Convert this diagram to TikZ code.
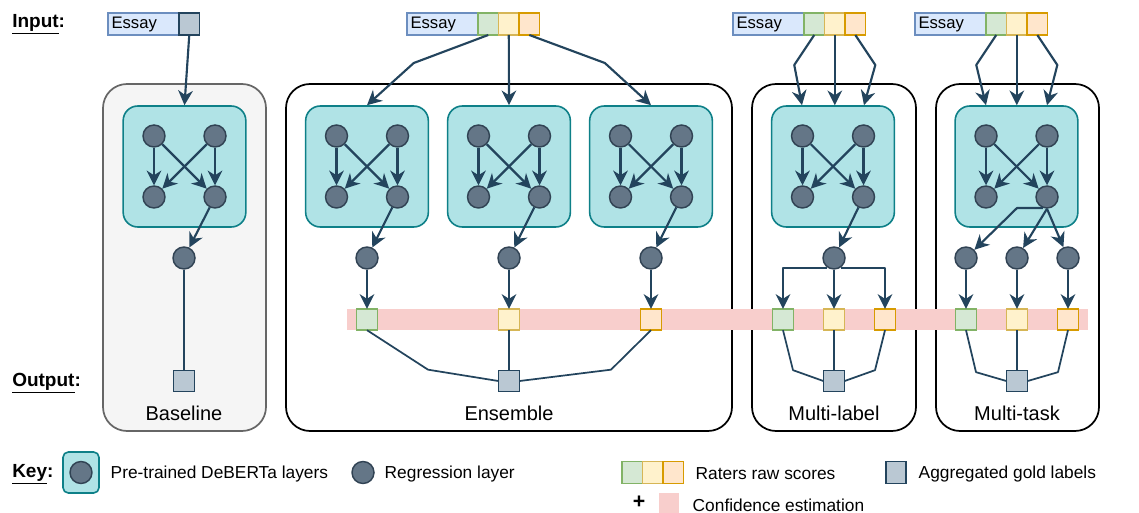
\documentclass[tikz,border=0pt]{standalone}
\usepackage{fontspec}
\setmainfont{Liberation Sans}
\usetikzlibrary{arrows.meta,calc}
\definecolor{tealF}{HTML}{B0E3E6}
\definecolor{tealB}{HTML}{0E8088}
\definecolor{neuF}{HTML}{647687}
\definecolor{neuB}{HTML}{314354}
\definecolor{arrC}{HTML}{23445D}
\definecolor{essayF}{HTML}{DAE8FC}
\definecolor{essayB}{HTML}{6C8EBF}
\definecolor{gF}{HTML}{D5E8D4}
\definecolor{gB}{HTML}{82B366}
\definecolor{yF}{HTML}{FFF2CC}
\definecolor{yB}{HTML}{D6B656}
\definecolor{oF}{HTML}{FFE6CC}
\definecolor{oB}{HTML}{D79B00}
\definecolor{goldF}{HTML}{BAC8D3}
\definecolor{goldB}{HTML}{23445D}
\definecolor{baseF}{HTML}{F5F5F5}
\definecolor{baseB}{HTML}{666666}
\definecolor{pinkF}{HTML}{F8CECC}
\newcommand\debblock[3]{%
  \node[tealbox] (#1) at (#2,#3) {};
  \node[neuron] (#1a) at (#2-30.5,#3-30.5) {};
  \node[neuron] (#1b) at (#2+30.5,#3-30.5) {};
  \node[neuron] (#1c) at (#2-30.5,#3+30.5) {};
  \node[neuron] (#1d) at (#2+30.5,#3+30.5) {};
  \draw[arr] (#1a) -- (#1c);
  \draw[arr] (#1b) -- (#1d);
  \draw[arr] (#1a) -- (#1d);
  \draw[arr] (#1b) -- (#1c);
}
\begin{document}
\begin{tikzpicture}[x=0.75pt,y=-0.75pt,
  tealbox/.style={draw=tealB, fill=tealF, line width=1.2pt, rounded corners=11pt, minimum width=92pt, minimum height=90.75pt, inner sep=0pt},
  neuron/.style={circle, draw=neuB, fill=neuF, line width=1.1pt, minimum size=16.5pt, inner sep=0pt},
  arr/.style={draw=arrC, line width=1.6pt, -{Stealth[length=11pt,width=11pt,inset=3.5pt]}, line join=round},
  ln/.style={draw=arrC, line width=1.3pt, line join=round},
  outerbox/.style={draw=black, line width=1.3pt, rounded corners=18pt},
  cell/.style={rectangle, line width=1.2pt, minimum width=15.4pt, minimum height=16.5pt, inner sep=0pt, outer sep=0pt},
  essay/.style={cell, draw=essayB, fill=essayF, minimum width=53.25pt, text width=48pt, inner xsep=2.5pt, align=left, font=\fontsize{12.5}{14}\selectfont, anchor=west},
  gcell/.style={cell, draw=gB, fill=gF},
  ycell/.style={cell, draw=yB, fill=yF},
  ocell/.style={cell, draw=oB, fill=oF},
  goldcell/.style={cell, draw=goldB, fill=goldF},
  rsq/.style={minimum width=16pt, minimum height=16pt},
  lab/.style={font=\fontsize{15}{18}\selectfont},
  keytxt/.style={font=\fontsize{13}{16}\selectfont, anchor=west},
  side/.style={font=\bfseries\fontsize{14.25}{17}\selectfont, anchor=west, inner sep=0pt},
]
\useasboundingbox (0,0) rectangle (1139,513);

% side labels
\node[side] (inL) at (12,24) {\underline{Input}:};
\node[side] (outL) at (12,383) {\underline{Output}:};
\node[side] (keyL) at (12,474) {\underline{Key}:};

% outer boxes
\draw[draw=baseB, fill=baseF, line width=1.3pt, rounded corners=18pt] (103,84) rectangle (266,431);
\draw[outerbox] (286,84) rectangle (732,431);
\draw[outerbox] (752,84) rectangle (916,431);
\draw[outerbox] (936,84) rectangle (1099,431);

% confidence band
\fill[pinkF] (347,309) rectangle (1088,330);

% labels
\node[lab] (bLab) at (184,413) {Baseline};
\node[lab] (eLab) at (509,413) {Ensemble};
\node[lab] (mLab) at (834,413) {Multi-label};
\node[lab] (tLab) at (1017,413) {Multi-task};

% ---------------- Baseline
\node[essay] (bE) at (108,24) {Essay};
\node[goldcell, anchor=west] (bI) at (bE.east) {};
\debblock{bT}{184.5}{166.5}
\node[neuron] (bR) at (184,258) {};
\node[goldcell, rsq] (bG) at (184,381) {};
\draw[arr] (bI.south) -- (bT.north);
\draw[arr] (bTd) -- (bR);
\draw[ln] (bR) -- (bG);

% ---------------- Ensemble
\node[essay] (eE) at (407,24) {Essay};
\node[gcell, anchor=west] (eIg) at (eE.east) {};
\node[ycell, anchor=west] (eIy) at (eIg.east) {};
\node[ocell, anchor=west] (eIo) at (eIy.east) {};
\debblock{eA}{367}{166.5}
\debblock{eB}{509}{166.5}
\debblock{eC}{651}{166.5}
\draw[arr] (eIg.south) -- ++(-74.5,28) -- (eA.north);
\draw[arr] (eIy.south) -- (eB.north);
\draw[arr] (eIo.south) -- ++(75.5,28) -- (eC.north);
\node[neuron] (eRa) at (367,258) {};
\node[neuron] (eRb) at (509,258) {};
\node[neuron] (eRc) at (651,258) {};
\draw[arr] (eAd) -- (eRa);
\draw[arr] (eBd) -- (eRb);
\draw[arr] (eCd) -- (eRc);
\node[gcell, rsq] (eSg) at (367,319.5) {};
\node[ycell, rsq] (eSy) at (509,319.5) {};
\node[ocell, rsq] (eSo) at (651,319.5) {};
\draw[arr] (eRa) -- (eSg);
\draw[arr] (eRb) -- (eSy);
\draw[arr] (eRc) -- (eSo);
\node[goldcell, rsq] (eG) at (509,381) {};
\draw[ln] (eSg.south) -- ++(61,39.5) -- (eG.west);
\draw[ln] (eSy) -- (eG);
\draw[ln] (eSo.south) -- ++(-40,39.5) -- (eG.east);

% ---------------- Multi-label
\node[essay] (mE) at (733,24) {Essay};
\node[gcell, anchor=west] (mIg) at (mE.east) {};
\node[ycell, anchor=west] (mIy) at (mIg.east) {};
\node[ocell, anchor=west] (mIo) at (mIy.east) {};
\debblock{mT}{833}{166.5}
\draw[arr] (mIg.south) -- ++(-20,30) -- ([xshift=-23.25pt]mT.north);
\draw[arr] (mIy.south) -- (mIy.south |- mT.north);
\draw[arr] (mIo.south) -- ++(20,30) -- ([xshift=23.25pt]mT.north);
\node[neuron] (mR) at (834,258) {};
\draw[arr] (mTd) -- (mR);
\node[gcell, rsq] (mSg) at (783,319.5) {};
\node[ycell, rsq] (mSy) at (834,319.5) {};
\node[ocell, rsq] (mSo) at (885,319.5) {};
\draw[arr] (mR.235) -| (mSg.north);
\draw[arr] (mR) -- (mSy);
\draw[arr] (mR.-55) -| (mSo.north);
\node[goldcell, rsq] (mG) at (834,381) {};
\draw[ln] (mSg.south) -- ++(10,40) -- (mG.west);
\draw[ln] (mSy) -- (mG);
\draw[ln] (mSo.south) -- ++(-10,40) -- (mG.east);

% ---------------- Multi-task
\node[essay] (tE) at (915,24) {Essay};
\node[gcell, anchor=west] (tIg) at (tE.east) {};
\node[ycell, anchor=west] (tIy) at (tIg.east) {};
\node[ocell, anchor=west] (tIo) at (tIy.east) {};
\debblock{tT}{1016.5}{166.5}
\draw[arr] (tIg.south) -- ++(-20,30) -- ([xshift=-22.9pt]tT.north);
\draw[arr] (tIy.south) -- (tIy.south |- tT.north);
\draw[arr] (tIo.south) -- ++(20,30) -- ([xshift=22.9pt]tT.north);
\node[neuron] (tRa) at (966,258) {};
\node[neuron] (tRb) at (1017,258) {};
\node[neuron] (tRc) at (1068,258) {};
\draw[arr] (tTd.250) -- ++(-26,0) -- (tRa);
\draw[arr] (tTd.south) -- (tRb);
\draw[arr] (tTd.south) -- (tRc);
\node[gcell, rsq] (tSg) at (966,319.5) {};
\node[ycell, rsq] (tSy) at (1017,319.5) {};
\node[ocell, rsq] (tSo) at (1068,319.5) {};
\draw[arr] (tRa) -- (tSg);
\draw[arr] (tRb) -- (tSy);
\draw[arr] (tRc) -- (tSo);
\node[goldcell, rsq] (tG) at (1017,381) {};
\draw[ln] (tSg.south) -- ++(10,42) -- (tG.west);
\draw[ln] (tSy) -- (tG);
\draw[ln] (tSo.south) -- ++(-10,42) -- (tG.east);

% ---------------- Key
\node[tealbox, minimum width=27pt, minimum height=30.75pt, rounded corners=4pt] (kT) at (81,472.5) {};
\node[neuron] (kTn) at (kT) {};
\node[keytxt] (kT1) at (106,474) {Pre-trained DeBERTa layers};
\node[neuron] (kR) at (363,472.5) {};
\node[keytxt] (kT2) at (380,474) {Regression layer};
\node[gcell, anchor=west] (kG) at (622,472.5) {};
\node[ycell, anchor=west] (kY) at (kG.east) {};
\node[ocell, anchor=west] (kO) at (kY.east) {};
\node[keytxt] (kT3) at (691,474) {Raters raw scores};
\node[goldcell] (kGold) at (896,472.5) {};
\node[keytxt] (kT4) at (914,474) {Aggregated gold labels};
\node[font=\bfseries\fontsize{16}{18}\selectfont, inner sep=0pt] (kPlus) at (639,502) {+};
\node[fill=pinkF, minimum width=15pt, minimum height=15pt, inner sep=0pt, anchor=north west] (kP) at (659,493) {};
\node[keytxt] (kT5) at (688,505) {Confidence estimation};
\end{tikzpicture}
\end{document}
